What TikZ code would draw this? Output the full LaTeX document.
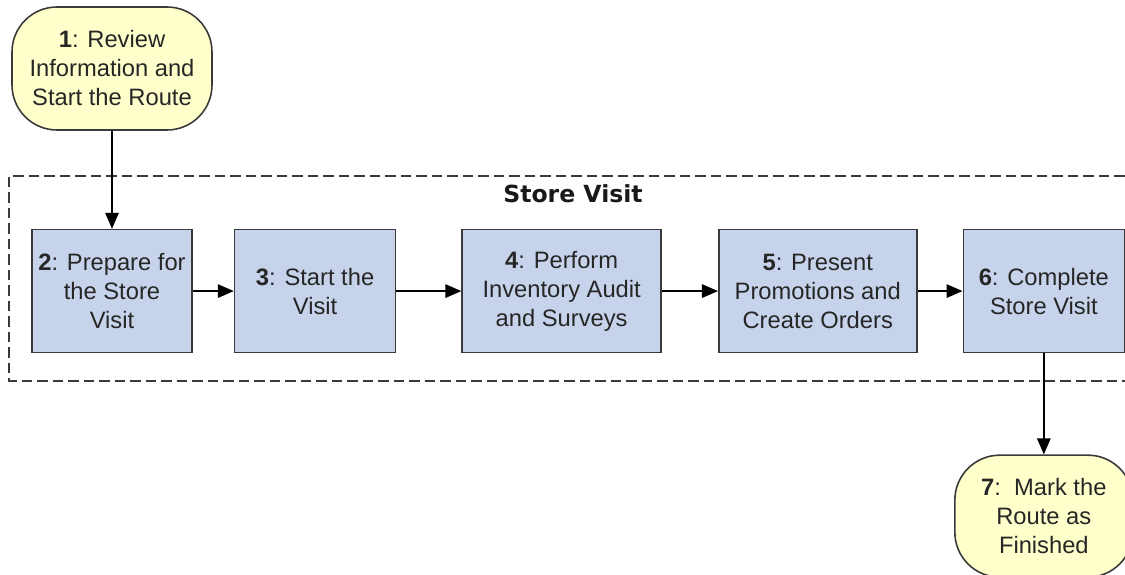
\documentclass[tikz,border=0pt]{standalone}
\usepackage{fontspec}
\setmainfont{Liberation Sans}
\newfontfamily\titlefont{DejaVu Sans}
\usepackage{xcolor}
\usetikzlibrary{arrows.meta, positioning}
\definecolor{stepblue}{HTML}{C6D3EA}
\definecolor{termyellow}{HTML}{FFFFCC}
\definecolor{edgegray}{HTML}{3A3A3A}
\definecolor{textgray}{HTML}{262626}

\begin{document}
\begin{tikzpicture}[
      font=\fontsize{13.5}{16.5}\selectfont,
      box/.style={draw=edgegray, line width=0.9pt, fill=stepblue, text=textgray,
                  minimum height=2.46cm, align=center, inner sep=0pt},
      term/.style={draw=edgegray, line width=0.9pt, fill=termyellow, text=textgray,
                   rounded corners=0.9cm, minimum height=2.46cm,
                   align=center, inner sep=0pt},
      groupline/.style={draw=edgegray, line width=0.8pt,
                        dash pattern=on 0.21cm off 0.1cm},
      arr/.style={-{Triangle[length=0.32cm, width=0.27cm]}, line width=0.85pt},
  ]

  \useasboundingbox (0,0) rectangle (22.5,-11.5);

  %% Store visit frame (open to the right)
  \draw[groupline] (22.8,-3.52) -- (0.18,-3.52) -- (0.18,-7.62) -- (22.8,-7.62);
  \node[font=\titlefont\bfseries\fontsize{13.4}{16}\selectfont, text=black!90]
       (grouplabel) at (11.46,-3.88) {Store Visit};

  %% Start of the route
  \node[term, minimum width=4.0cm] (review) at (2.24,-1.37)
       {\textbf{1}: Review\\Information and\\Start the Route};

  %% Store visit steps
  \node[box, minimum width=3.2cm, below=1.96cm of review] (prepare)
       {\textbf{2}: Prepare for\\the Store\\Visit};
  \node[box, minimum width=3.22cm, right=0.82cm of prepare] (start)
       {\textbf{3}: Start the\\Visit};
  \node[box, minimum width=3.98cm, right=1.3cm of start] (audit)
       {\textbf{4}: Perform\\Inventory Audit\\and Surveys};
  \node[box, minimum width=3.96cm, right=1.12cm of audit] (promo)
       {\textbf{5}: Present\\Promotions and\\Create Orders};
  \node[box, minimum width=3.22cm, right=0.9cm of promo] (complete)
       {\textbf{6}: Complete\\Store Visit};

  %% End of the route
  \node[term, minimum width=3.56cm, minimum height=2.44cm, below=2.02cm of complete] (finish)
       {\textbf{7}:\ \ Mark the\\Route as\\Finished};

  %% Arrows
  \draw[arr] (review)   -- (prepare);
  \draw[arr] (prepare)  -- (start);
  \draw[arr] (start)    -- (audit);
  \draw[arr] (audit)    -- (promo);
  \draw[arr] (promo)    -- (complete);
  \draw[arr] (complete) -- (finish);

\end{tikzpicture}
\end{document}
